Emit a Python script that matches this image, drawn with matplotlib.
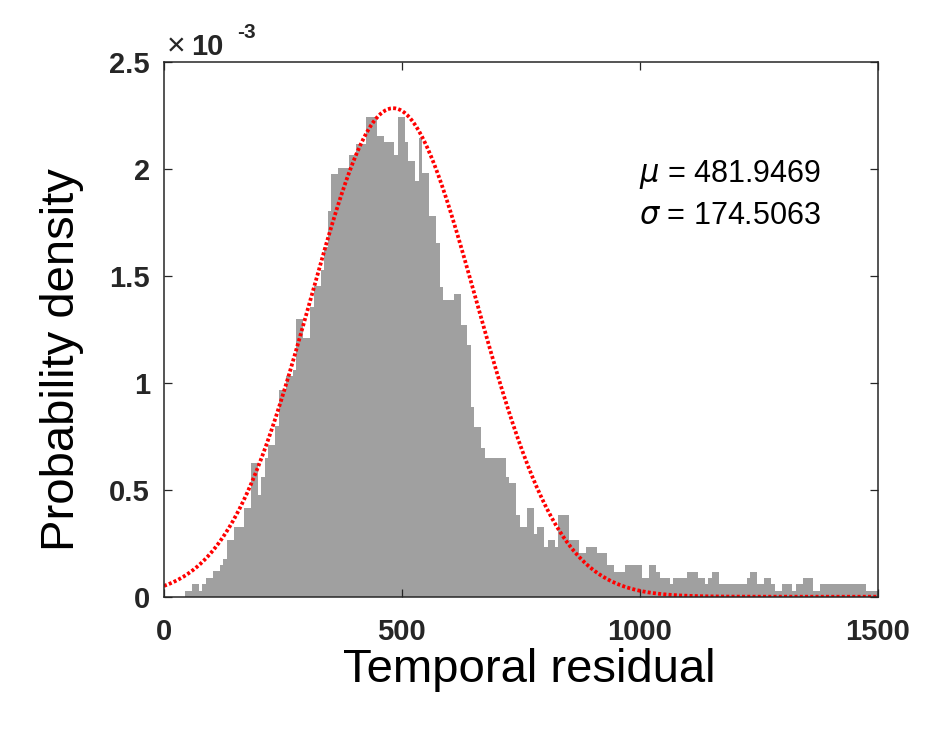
import numpy as np
import matplotlib
matplotlib.use("Agg")
import matplotlib.pyplot as plt

plt.rcParams['font.family'] = ['Liberation Sans', 'DejaVu Sans']

# histogram (density, in units of 1e-3)
bin_start = 43.5
bin_width = 7.34
density_e3 = [
    0.028, 0.028, 0.059, 0.059, 0.028, 0.059, 0.089, 0.089, 0.119, 0.119,
    0.148, 0.178, 0.265, 0.265, 0.325, 0.325, 0.325, 0.414, 0.414, 0.625,
    0.625, 0.476, 0.562, 0.648, 0.710, 0.710, 0.800, 0.968, 0.968, 1.034,
    1.034, 1.062, 1.299, 1.299, 1.210, 1.210, 1.358, 1.452, 1.452, 1.530,
    1.636, 1.803, 1.980, 1.980, 2.008, 2.008, 2.008, 2.069, 2.069, 2.120,
    2.120, 2.120, 2.245, 2.245, 2.245, 2.158, 2.158, 2.127, 2.127, 2.127,
    2.069, 2.245, 2.245, 2.127, 2.037, 2.037, 1.947, 2.147, 1.983, 1.983,
    1.780, 1.780, 1.655, 1.449, 1.390, 1.390, 1.390, 1.418, 1.418, 1.273,
    1.273, 1.179, 0.890, 0.796, 0.796, 0.696, 0.648, 0.648, 0.648, 0.648,
    0.648, 0.648, 0.562, 0.531, 0.531, 0.383, 0.325, 0.325, 0.414, 0.414,
    0.294, 0.325, 0.325, 0.234, 0.265, 0.265, 0.234, 0.383, 0.383, 0.383,
    0.265, 0.265, 0.265, 0.203, 0.203, 0.234, 0.234, 0.234, 0.203, 0.203,
    0.203, 0.148, 0.148, 0.117, 0.117, 0.117, 0.148, 0.148, 0.148, 0.148,
    0.148, 0.089, 0.089, 0.148, 0.148, 0.117, 0.089, 0.089, 0.089, 0.058,
    0.089, 0.089, 0.089, 0.089, 0.117, 0.117, 0.117, 0.089, 0.089, 0.058,
    0.089, 0.117, 0.117, 0.058, 0.058, 0.058, 0.058, 0.058, 0.058, 0.058,
    0.058, 0.089, 0.117, 0.117, 0.058, 0.058, 0.089, 0.089, 0.058, 0.028,
    0.028, 0.058, 0.058, 0.058, 0.028, 0.058, 0.058, 0.089, 0.089, 0.089,
    0.028, 0.028, 0.058, 0.058, 0.058, 0.058, 0.058, 0.058, 0.058, 0.058,
    0.058, 0.058, 0.058, 0.058, 0.058, 0.028, 0.028, 0.028, 0.028,
]

# normal fit shown on the chart
mu = 481.9469
sigma = 174.5063

edges = bin_start + bin_width * np.arange(len(density_e3) + 1)
xfit = np.linspace(0, 1500, 600)
yfit = np.exp(-0.5 * ((xfit - mu) / sigma) ** 2) / (sigma * np.sqrt(2 * np.pi)) * 1e3

fig = plt.figure(figsize=(9.28, 7.52), dpi=100)
fig.set_facecolor("#ffffff")
ax = fig.add_axes([0.1767, 0.2065, 0.7689, 0.7104])

ax.stairs(density_e3, edges, fill=True, color="#a0a0a0", linewidth=0)
ax.plot(xfit, yfit, color="#ff0000", linewidth=2.7, linestyle=(0, (0.8, 0.6)))

ax.set_xlim(0, 1500)
ax.set_ylim(0, 2.5)
ax.set_xticks([0, 500, 1000, 1500])
ax.set_yticks([0, 0.5, 1, 1.5, 2, 2.5])
ax.set_yticklabels(["0", "0.5", "1", "1.5", "2", "2.5"])

for s in ax.spines.values():
    s.set_linewidth(1.1)
    s.set_color("#262626")
ax.tick_params(direction="in", length=5.5, width=0.9, color="#262626",
               top=True, right=True, labelsize=21, pad=10)
ax.tick_params(axis="x", pad=15)
for lab in ax.get_xticklabels() + ax.get_yticklabels():
    lab.set_fontweight("bold")
    lab.set_color("#262626")

ax.set_xlabel("Temporal residual", fontsize=34)
ax.xaxis.set_label_coords(0.512, -0.137)
ax.xaxis.label.set_va("center")
ax.set_ylabel("Probability density", fontsize=34)
ax.yaxis.set_label_coords(-0.143, 0.443)
ax.yaxis.label.set_va("center")

# exponent label
fig.text(167 / 928, 1 - 55 / 752, "\u00d7", fontsize=23, color="#262626", va="baseline")
fig.text(191 / 928, 1 - 55 / 752, "10", fontsize=21, fontweight="bold", color="#262626", va="baseline")
fig.text(237 / 928, 1 - 38 / 752, "-3", fontsize=15, fontweight="bold", color="#262626", va="baseline")

ax.text(998, 1.94, r"$\mu$ = %.4f" % mu, fontsize=22, va="baseline")
ax.text(998, 1.745, r"$\sigma$ = %.4f" % sigma, fontsize=22, va="baseline")

plt.savefig("out.png", dpi=100)
